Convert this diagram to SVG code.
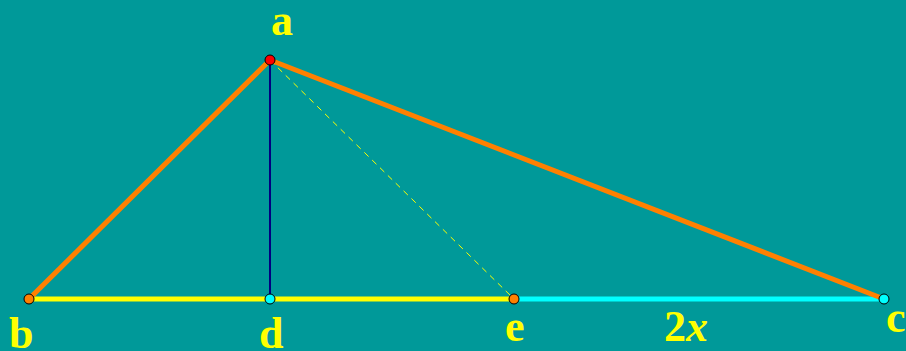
<svg xmlns="http://www.w3.org/2000/svg" width="906" height="351" viewBox="0 0 906 351">
<style>
.lbl{font-family:"Liberation Serif","Times New Roman",serif;font-weight:bold;font-size:44px;fill:#FFFF00}
.pt{stroke:#000;stroke-width:1}
</style>
<rect width="906" height="351" fill="#009999"/>
<g id="connectors" fill="none">
<line x1="29" y1="299" x2="514" y2="299" stroke="#FFFF00" stroke-width="5"/>
<line x1="514" y1="299" x2="884" y2="299" stroke="#00FFFF" stroke-width="5"/>
<line x1="270" y1="60" x2="29" y2="299" stroke="#FF8000" stroke-width="5"/>
<line x1="270" y1="60" x2="884" y2="299" stroke="#FF8000" stroke-width="5"/>
<line x1="270" y1="60" x2="270" y2="299" stroke="#000080" stroke-width="2"/>
<line x1="270" y1="60" x2="514" y2="299" stroke="#FFFF00" stroke-width="1" stroke-dasharray="6,5"/>
</g>
<g id="a"><circle class="pt" cx="270" cy="60" r="5" fill="#FF0000"/><text class="lbl" x="271" y="35">a</text></g>
<g id="b"><circle class="pt" cx="29" cy="299" r="5" fill="#FF8000"/><text class="lbl" x="9" y="348">b</text></g>
<g id="d"><circle class="pt" cx="270" cy="299" r="5" fill="#00FFFF"/><text class="lbl" x="259" y="348">d</text></g>
<g id="e"><circle class="pt" cx="514" cy="299" r="5" fill="#FF8000"/><text class="lbl" x="505" y="341">e</text></g>
<g id="c"><circle class="pt" cx="884" cy="299" r="5" fill="#00FFFF"/><text class="lbl" x="886" y="332">c</text></g>
<text class="lbl" x="664" y="341">2<tspan font-style="italic">x</tspan></text>
</svg>
